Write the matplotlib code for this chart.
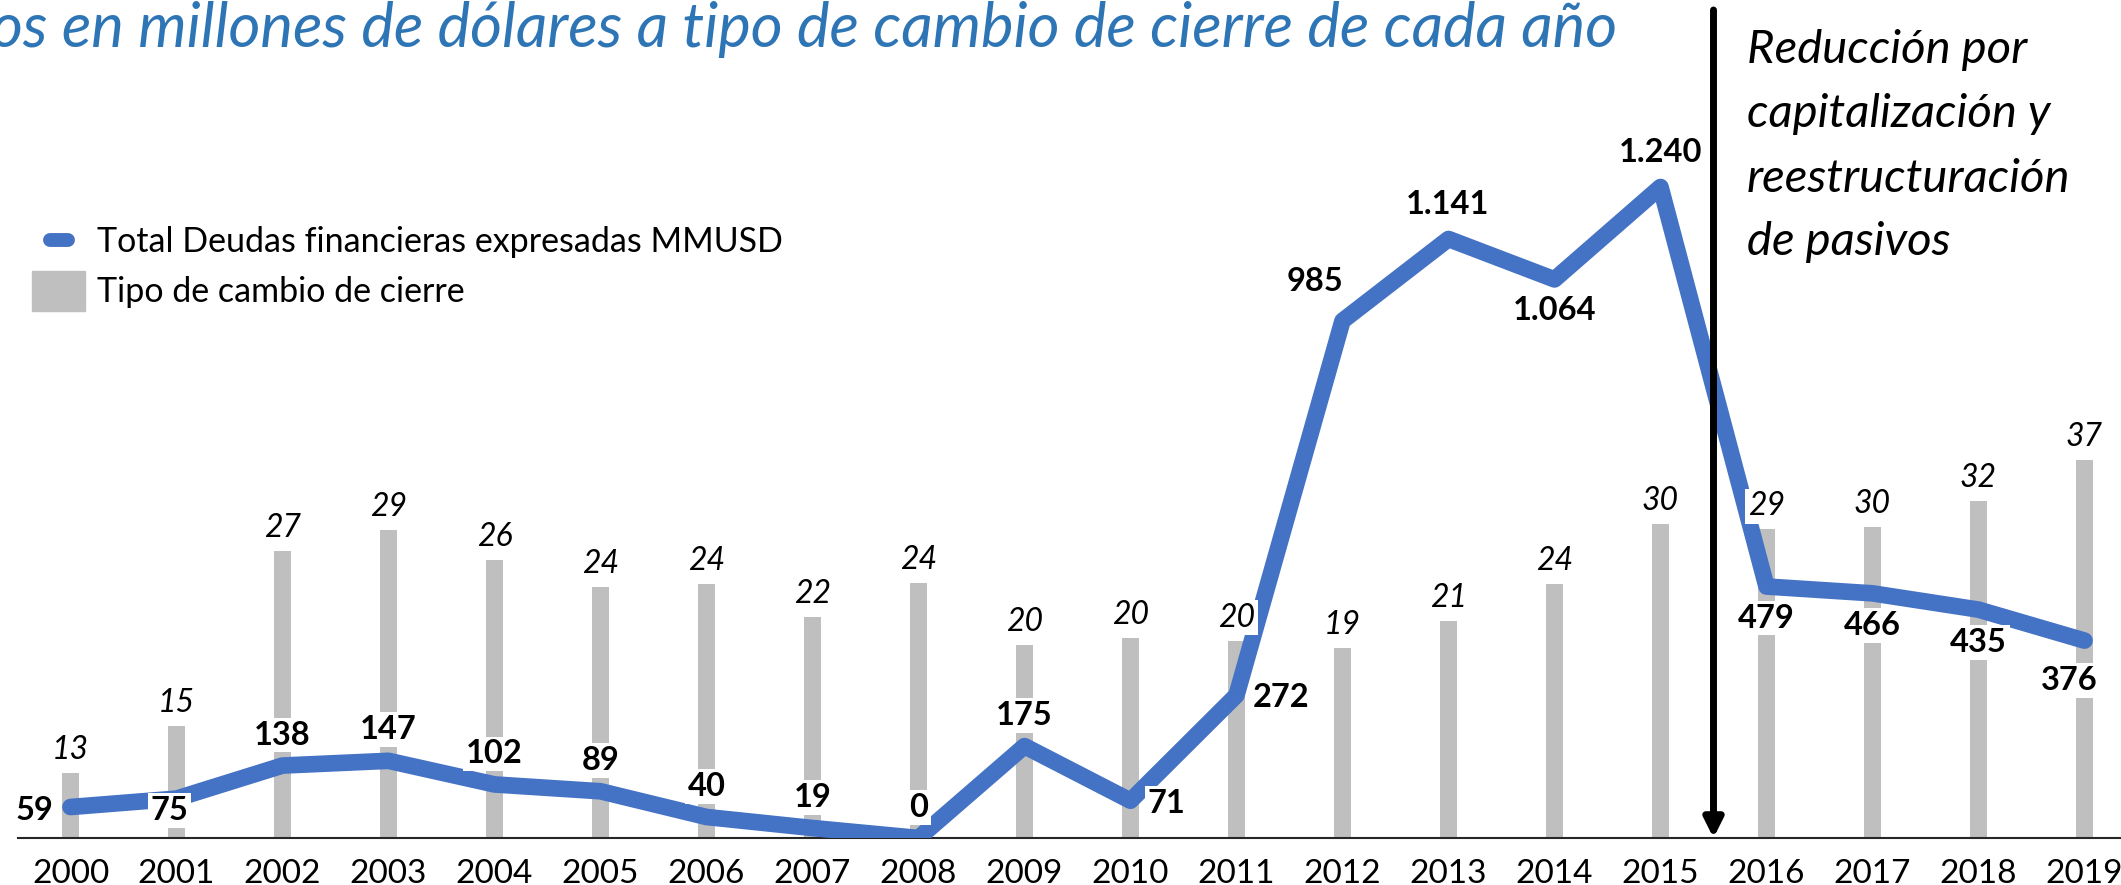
import matplotlib
matplotlib.use("Agg")
import matplotlib.pyplot as plt
from matplotlib.lines import Line2D
from matplotlib.patches import Rectangle
import numpy as np

plt.rcParams['font.family'] = ['Lato', 'DejaVu Sans']

# datos
years = [str(y) for y in range(2000, 2020)]
deuda = [59, 75, 138, 147, 102, 89, 40, 19, 0, 175, 71, 272, 985, 1141, 1064, 1240, 479, 466, 435, 376]
tipo_cambio = [12.52, 14.77, 27.2, 29.2, 26.3, 24.0, 24.2, 21.6, 24.3, 19.6,
               20.1, 19.9, 19.4, 21.3, 24.2, 29.9, 29.3, 29.6, 32.4, 37.3]

titulo = "os en millones de dólares a tipo de cambio de cierre de cada año"
nota = ["Reducción por", "capitalización y", "reestructuración", "de pasivos"]

# label offsets for the debt line (px right, px down) from each point
line_lbl_off = [(-36, 13), (-7, 21), (0, -21), (0, -22), (0, -21), (0, -21), (0, -21),
                (0, -21), (0, -21), (0, -21), (36, 12), (45, 12), (-28, -30), (-1, -25),
                (0, 41), (0, -25), (0, 41), (0, 42), (0, 42), (-15, 49)]

W, H = 2121, 885
def fx(x):
    return x / W
def fy(y):
    return 1 - y / H

fig = plt.figure(figsize=(W / 100, H / 100), dpi=100)
ax = fig.add_axes([fx(17.5), (H - 838) / H, 2120 / W, (838 - 103) / H])

x = np.arange(len(years))
ax.bar(x, tipo_cambio, width=0.16, color='#BFBFBF', log=True, zorder=1)
ax.set_yscale('log')
ax.set_ylim(10, 10 * np.exp(735 / 287))
ax.set_xlim(-0.5, 19.5)
ax.set_xticks(x, years)
for s in ['top', 'left', 'right']:
    ax.spines[s].set_visible(False)
ax.spines['bottom'].set_color('#262626')
ax.spines['bottom'].set_linewidth(1.5)

ax2 = ax.twinx()
ax2.plot(x, deuda, color='#4472C4', lw=12, solid_capstyle='round',
         solid_joinstyle='round', zorder=2)
ax2.set_ylim(0, 1400)
for s in ax2.spines.values():
    s.set_visible(False)

# twinx turns the left ticks back on, so hide them afterwards
ax.tick_params(axis='x', length=0, pad=15, labelsize=24)
ax.tick_params(axis='y', which='both', left=False, right=False,
               labelleft=False, labelright=False)
ax2.tick_params(axis='y', which='both', left=False, right=False,
                labelleft=False, labelright=False)

# bar labels (italic) drawn on top of the line
for i, v in enumerate(tipo_cambio):
    ax2.annotate(f"{v:.0f}", xy=(i, v), xycoords=ax.transData, xytext=(0, 14),
                 textcoords='offset pixels', ha='center', va='baseline',
                 fontsize=23, fontstyle='italic',
                 bbox=dict(fc='white', ec='none', pad=2), zorder=4,
                 annotation_clip=False)

# debt labels (bold)
for i, v in enumerate(deuda):
    dx, dy = line_lbl_off[i]
    ax2.annotate(f"{v:,.0f}".replace(",", "."), xy=(i, v), xytext=(dx, -dy),
                 textcoords='offset pixels', ha='center', va='baseline',
                 fontsize=23.5, fontweight='bold',
                 bbox=dict(fc='white', ec='none', pad=2), zorder=5,
                 annotation_clip=False)

# vertical arrow between 2015 and 2016
ax2.annotate('', xy=(15.5, 0), xycoords='data', xytext=(15.5, fy(10)),
             textcoords=('data', 'figure fraction'),
             arrowprops=dict(arrowstyle='-|>', color='black', lw=5,
                             shrinkA=0, shrinkB=0, mutation_scale=28),
             annotation_clip=False, zorder=6)

for linea, yb in zip(nota, [63, 127, 192, 255]):
    fig.text(fx(1747), fy(yb), linea, fontsize=34, fontstyle='italic',
             va='baseline', ha='left')

fig.text(fx(1617), fy(47), titulo, ha='right', va='baseline', fontsize=44.3,
         fontstyle='italic', color='#2E75B6')

# legend
fig.add_artist(Line2D([fx(50), fx(68)], [fy(240), fy(240)], lw=10,
                      color='#4472C4', solid_capstyle='round'))
fig.add_artist(Rectangle((fx(32), fy(311)), 53 / W, 40 / H, color='#BFBFBF'))
fig.text(fx(97), fy(252), "Total Deudas financieras expresadas MMUSD",
         fontsize=24.5, va='baseline')
fig.text(fx(97), fy(302), "Tipo de cambio de cierre", fontsize=24.5, va='baseline')

fig.savefig("out.png", dpi=100)
